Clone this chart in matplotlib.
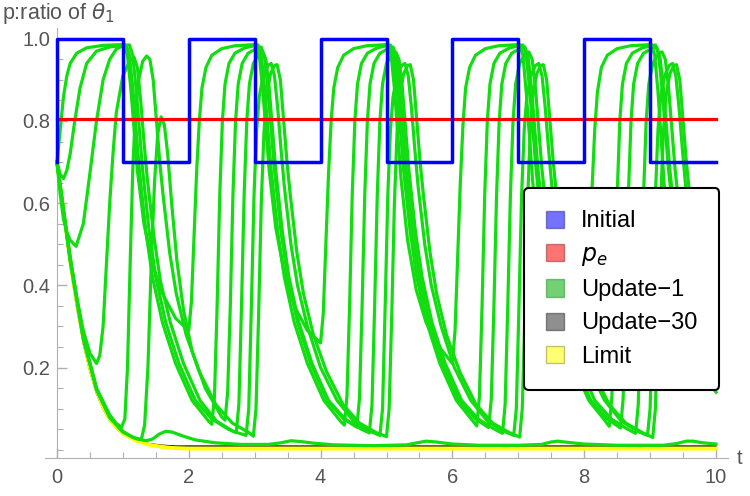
import numpy as np
import matplotlib.pyplot as plt
from matplotlib.patches import Patch

plt.rcParams['font.family'] = ['Liberation Sans', 'DejaVu Sans']
plt.rcParams['mathtext.fontset'] = 'dejavusans'

# initial ratio (square wave)
initial_t = [0, 0, 1, 1, 2, 2, 3, 3, 4, 4, 5, 5, 6, 6, 7, 7, 8, 8, 9, 9, 10]
initial_p = [0.7, 1.0, 1.0, 0.7, 0.7, 1.0, 1.0, 0.7, 0.7, 1.0, 1.0, 0.7,
             0.7, 1.0, 1.0, 0.7, 0.7, 1.0, 1.0, 0.7, 0.7]

pe = 0.806

# limit curve and Update-30 (lies right along it)
limit_t = [0, 0.05, 0.1, 0.15, 0.2, 0.3, 0.4, 0.5, 0.6, 0.7, 0.8, 0.9, 1.0,
           1.2, 1.4, 1.6, 1.8, 2.0, 10]
limit_p = [0.70, 0.64, 0.58, 0.52, 0.46, 0.36, 0.27, 0.20, 0.145, 0.105,
           0.075, 0.055, 0.04, 0.022, 0.012, 0.007, 0.004, 0.003, 0.003]
update30_p = [0.69, 0.625, 0.565, 0.505, 0.445, 0.345, 0.257, 0.19, 0.137,
              0.099, 0.071, 0.052, 0.039, 0.023, 0.015, 0.011, 0.009, 0.009,
              0.009]

# green curves: intermediate updates
ga_t = [0, 0.05, 0.1, 0.15, 0.2, 0.3, 0.45, 0.7, 1.02,
        1.07, 1.12, 1.17, 1.22, 1.32, 1.45, 1.6, 1.8, 2.0,
        2.04, 2.08, 2.12, 2.16, 2.2, 2.26, 2.35, 2.5, 2.7, 3.02,
        3.07, 3.12, 3.17, 3.22, 3.32, 3.45, 3.6, 3.8, 4.0,
        4.04, 4.08, 4.12, 4.16, 4.2, 4.26, 4.35, 4.5, 4.7, 5.02,
        5.07, 5.12, 5.17, 5.22, 5.32, 5.45, 5.6, 5.8, 6.0,
        6.04, 6.08, 6.12, 6.16, 6.2, 6.26, 6.35, 6.5, 6.7, 7.02,
        7.07, 7.12, 7.17, 7.22, 7.32, 7.45, 7.6, 7.8, 8.0,
        8.04, 8.08, 8.12, 8.16, 8.2, 8.26, 8.35, 8.5, 8.7, 9.02,
        9.07, 9.12, 9.17, 9.22, 9.32, 9.45, 9.6, 9.8, 10.0]
ga_p = [0.7, 0.78, 0.86, 0.91, 0.94, 0.965, 0.978, 0.984, 0.986,
        0.96, 0.88, 0.78, 0.68, 0.55, 0.45, 0.38, 0.32, 0.29,
        0.36, 0.52, 0.68, 0.8, 0.88, 0.93, 0.96, 0.976, 0.983, 0.986,
        0.96, 0.88, 0.78, 0.68, 0.54, 0.43, 0.35, 0.29, 0.26,
        0.33, 0.5, 0.67, 0.8, 0.88, 0.93, 0.96, 0.976, 0.983, 0.986,
        0.96, 0.88, 0.77, 0.66, 0.51, 0.39, 0.31, 0.25, 0.21,
        0.29, 0.47, 0.65, 0.79, 0.88, 0.93, 0.96, 0.976, 0.983, 0.986,
        0.96, 0.87, 0.76, 0.65, 0.49, 0.37, 0.28, 0.22, 0.18,
        0.26, 0.45, 0.64, 0.78, 0.87, 0.93, 0.96, 0.976, 0.983, 0.986,
        0.96, 0.87, 0.75, 0.63, 0.47, 0.34, 0.25, 0.18, 0.14]

gb_t = [0, 0.05, 0.1, 0.15, 0.2, 0.27, 0.35, 0.45, 0.6, 0.8, 1.05,
        1.1, 1.15, 1.2, 1.25, 1.35, 1.45, 1.6, 1.8, 2.05, 2.3, 2.35,
        2.39, 2.43, 2.47, 2.51, 2.55, 2.61, 2.7, 2.85, 3.05,
        3.1, 3.15, 3.2, 3.25, 3.35, 3.45, 3.6, 3.8, 4.05, 4.3, 4.36,
        4.4, 4.44, 4.48, 4.52, 4.56, 4.62, 4.71, 4.86, 5.06,
        5.11, 5.16, 5.21, 5.26, 5.36, 5.46, 5.61, 5.81, 6.06, 6.31, 6.37,
        6.41, 6.45, 6.49, 6.53, 6.57, 6.63, 6.72, 6.87, 7.07,
        7.12, 7.17, 7.22, 7.27, 7.37, 7.47, 7.62, 7.82, 8.07, 8.32, 8.38,
        8.42, 8.46, 8.5, 8.54, 8.58, 8.64, 8.73, 8.88, 9.08,
        9.13, 9.18, 9.23, 9.28, 9.38, 9.48, 9.63, 9.83, 10.0]
gb_p = [0.7, 0.67, 0.66, 0.68, 0.72, 0.8, 0.88, 0.94, 0.97, 0.98, 0.985,
        0.96, 0.88, 0.78, 0.68, 0.53, 0.42, 0.31, 0.21, 0.12, 0.07, 0.062,
        0.13, 0.35, 0.62, 0.8, 0.89, 0.94, 0.965, 0.978, 0.985,
        0.96, 0.88, 0.78, 0.68, 0.53, 0.42, 0.31, 0.21, 0.12, 0.07, 0.06,
        0.13, 0.35, 0.62, 0.8, 0.89, 0.94, 0.965, 0.978, 0.985,
        0.96, 0.88, 0.78, 0.68, 0.53, 0.42, 0.31, 0.21, 0.12, 0.07, 0.058,
        0.13, 0.35, 0.62, 0.8, 0.89, 0.94, 0.965, 0.978, 0.985,
        0.96, 0.88, 0.78, 0.68, 0.53, 0.42, 0.31, 0.21, 0.12, 0.07, 0.057,
        0.13, 0.35, 0.62, 0.8, 0.89, 0.94, 0.965, 0.978, 0.985,
        0.96, 0.88, 0.78, 0.68, 0.53, 0.42, 0.31, 0.21, 0.16]

gc_t = [0, 0.05, 0.1, 0.15, 0.2, 0.29, 0.4, 0.49, 0.6, 0.7, 0.8, 0.9, 1.0, 1.1,
        1.15, 1.2, 1.25, 1.3, 1.4, 1.5, 1.65, 1.85, 2.1, 2.35, 2.6, 2.72,
        2.76, 2.8, 2.84, 2.88, 2.92, 2.98, 3.07, 3.12,
        3.17, 3.22, 3.27, 3.32, 3.42, 3.52, 3.67, 3.87, 4.12, 4.37, 4.62, 4.74,
        4.78, 4.82, 4.86, 4.9, 4.94, 5.0, 5.09, 5.14,
        5.19, 5.24, 5.29, 5.34, 5.44, 5.54, 5.69, 5.89, 6.14, 6.39, 6.64, 6.76,
        6.8, 6.84, 6.88, 6.92, 6.96, 7.02, 7.11, 7.16,
        7.21, 7.26, 7.31, 7.36, 7.46, 7.56, 7.71, 7.91, 8.16, 8.41, 8.66, 8.78,
        8.82, 8.86, 8.9, 8.94, 8.98, 9.04, 9.13, 9.18,
        9.23, 9.28, 9.33, 9.38, 9.48, 9.58, 9.73, 9.93, 10.0]
gc_p = [0.7, 0.62, 0.56, 0.53, 0.51, 0.495, 0.55, 0.66, 0.8, 0.9, 0.95, 0.975,
        0.983, 0.985,
        0.96, 0.88, 0.78, 0.68, 0.53, 0.42, 0.31, 0.21, 0.12, 0.075, 0.05, 0.042,
        0.11, 0.35, 0.62, 0.8, 0.89, 0.94, 0.965, 0.968,
        0.95, 0.88, 0.78, 0.68, 0.53, 0.42, 0.31, 0.21, 0.12, 0.075, 0.05, 0.041,
        0.11, 0.35, 0.62, 0.8, 0.89, 0.94, 0.965, 0.968,
        0.95, 0.88, 0.78, 0.68, 0.53, 0.42, 0.31, 0.21, 0.12, 0.075, 0.05, 0.04,
        0.11, 0.35, 0.62, 0.8, 0.89, 0.94, 0.965, 0.968,
        0.95, 0.88, 0.78, 0.68, 0.53, 0.42, 0.31, 0.21, 0.12, 0.075, 0.05, 0.04,
        0.11, 0.35, 0.62, 0.8, 0.89, 0.94, 0.965, 0.968,
        0.95, 0.88, 0.78, 0.68, 0.53, 0.42, 0.31, 0.21, 0.19]

gd_t = [0, 0.1, 0.2, 0.3, 0.4, 0.5, 0.6, 0.65, 0.7, 0.75, 0.8, 0.85, 0.9, 1.0,
        1.1, 1.17,
        1.22, 1.27, 1.32, 1.37, 1.47, 1.57, 1.72, 1.92, 2.17, 2.42, 2.67, 2.87,
        2.91, 2.95, 2.99, 3.03, 3.07, 3.13, 3.2, 3.25,
        3.3, 3.35, 3.4, 3.45, 3.55, 3.65, 3.8, 4.0, 4.25, 4.5, 4.75, 4.9,
        4.94, 4.98, 5.02, 5.06, 5.1, 5.16, 5.23, 5.28,
        5.33, 5.38, 5.43, 5.48, 5.58, 5.68, 5.83, 6.03, 6.28, 6.53, 6.78, 6.93,
        6.97, 7.01, 7.05, 7.09, 7.13, 7.19, 7.26, 7.31,
        7.36, 7.41, 7.46, 7.51, 7.61, 7.71, 7.86, 8.06, 8.31, 8.56, 8.81, 8.96,
        9.0, 9.04, 9.08, 9.12, 9.16, 9.22, 9.29, 9.34,
        9.39, 9.44, 9.49, 9.54, 9.64, 9.74, 9.89, 10.0]
gd_p = [0.7, 0.58, 0.47, 0.37, 0.29, 0.235, 0.21, 0.23, 0.3, 0.45, 0.6, 0.72,
        0.82, 0.91, 0.945, 0.955,
        0.93, 0.85, 0.75, 0.66, 0.52, 0.41, 0.31, 0.21, 0.12, 0.07, 0.045, 0.035,
        0.1, 0.35, 0.62, 0.78, 0.86, 0.91, 0.935, 0.94,
        0.91, 0.83, 0.73, 0.64, 0.5, 0.4, 0.3, 0.2, 0.12, 0.07, 0.045, 0.035,
        0.1, 0.35, 0.62, 0.78, 0.86, 0.91, 0.935, 0.94,
        0.91, 0.83, 0.73, 0.64, 0.5, 0.4, 0.3, 0.2, 0.12, 0.07, 0.045, 0.035,
        0.1, 0.35, 0.62, 0.78, 0.86, 0.91, 0.935, 0.94,
        0.91, 0.83, 0.73, 0.64, 0.5, 0.4, 0.3, 0.2, 0.12, 0.07, 0.045, 0.035,
        0.1, 0.35, 0.62, 0.78, 0.86, 0.91, 0.935, 0.94,
        0.91, 0.83, 0.73, 0.64, 0.5, 0.4, 0.3, 0.25]

ge_t = [0, 0.2, 0.4, 0.6, 0.8, 0.9, 0.98, 1.03, 1.07, 1.11, 1.15, 1.19, 1.24,
        1.3, 1.36, 1.41,
        1.46, 1.51, 1.56, 1.61, 1.71, 1.81, 1.96, 2.16, 2.41, 2.66, 2.91, 2.98,
        3.02, 3.06, 3.1, 3.14, 3.18, 3.24, 3.3, 3.34,
        3.39, 3.44, 3.49, 3.54, 3.64, 3.74, 3.89, 4.09, 4.34, 4.59, 4.84, 5.0,
        5.04, 5.08, 5.12, 5.16, 5.2, 5.26, 5.32, 5.36,
        5.41, 5.46, 5.51, 5.56, 5.66, 5.76, 5.91, 6.11, 6.36, 6.61, 6.86, 7.02,
        7.06, 7.1, 7.14, 7.18, 7.22, 7.28, 7.34, 7.38,
        7.43, 7.48, 7.53, 7.58, 7.68, 7.78, 7.93, 8.13, 8.38, 8.63, 8.88, 9.04,
        9.08, 9.12, 9.16, 9.2, 9.24, 9.3, 9.36, 9.4,
        9.45, 9.5, 9.55, 9.6, 9.7, 9.8, 9.95, 10.0]
ge_p = [0.7, 0.465, 0.275, 0.15, 0.085, 0.064, 0.055, 0.075, 0.2, 0.45, 0.68,
        0.82, 0.9, 0.945, 0.958, 0.95,
        0.9, 0.8, 0.7, 0.62, 0.48, 0.38, 0.28, 0.19, 0.11, 0.065, 0.042, 0.033,
        0.1, 0.33, 0.6, 0.77, 0.86, 0.915, 0.935, 0.937,
        0.9, 0.8, 0.7, 0.62, 0.48, 0.38, 0.28, 0.19, 0.11, 0.065, 0.042, 0.032,
        0.1, 0.33, 0.6, 0.77, 0.86, 0.915, 0.935, 0.937,
        0.9, 0.8, 0.7, 0.62, 0.48, 0.38, 0.28, 0.19, 0.11, 0.065, 0.042, 0.031,
        0.1, 0.33, 0.6, 0.77, 0.86, 0.915, 0.935, 0.937,
        0.9, 0.8, 0.7, 0.62, 0.48, 0.38, 0.28, 0.19, 0.11, 0.065, 0.042, 0.03,
        0.1, 0.33, 0.6, 0.77, 0.86, 0.915, 0.935, 0.937,
        0.9, 0.8, 0.7, 0.62, 0.48, 0.38, 0.28, 0.26]

gf_t = [0, 0.2, 0.4, 0.6, 0.8, 1.0, 1.15, 1.28, 1.33, 1.38, 1.43, 1.48, 1.53,
        1.58, 1.63, 1.68, 1.74, 1.82, 1.92, 2.05, 2.25, 2.5, 2.55,
        2.59, 2.63, 2.67, 2.71, 2.75, 2.81, 2.9, 3.05, 3.1,
        3.15, 3.2, 3.25, 3.3, 3.4, 3.5, 3.65, 3.85, 4.1, 4.35, 4.55,
        4.59, 4.63, 4.67, 4.71, 4.75, 4.81, 4.9, 5.05, 5.1,
        5.15, 5.2, 5.25, 5.3, 5.4, 5.5, 5.65, 5.85, 6.1, 6.35, 6.55,
        6.59, 6.63, 6.67, 6.71, 6.75, 6.81, 6.9, 7.05, 7.1,
        7.15, 7.2, 7.25, 7.3, 7.4, 7.5, 7.65, 7.85, 8.1, 8.35, 8.55,
        8.59, 8.63, 8.67, 8.71, 8.75, 8.81, 8.9, 9.05, 9.1,
        9.15, 9.2, 9.25, 9.3, 9.4, 9.5, 9.65, 9.85, 10.0]
gf_p = [0.7, 0.463, 0.272, 0.148, 0.08, 0.045, 0.03, 0.025, 0.06, 0.2, 0.45,
        0.65, 0.77, 0.81, 0.79, 0.72, 0.6, 0.46, 0.34, 0.24, 0.15, 0.08, 0.072,
        0.14, 0.35, 0.62, 0.8, 0.89, 0.94, 0.965, 0.978, 0.98,
        0.955, 0.88, 0.78, 0.68, 0.53, 0.42, 0.31, 0.21, 0.12, 0.075, 0.055,
        0.125, 0.35, 0.62, 0.8, 0.89, 0.94, 0.965, 0.978, 0.98,
        0.955, 0.88, 0.78, 0.68, 0.53, 0.42, 0.31, 0.21, 0.12, 0.075, 0.054,
        0.124, 0.35, 0.62, 0.8, 0.89, 0.94, 0.965, 0.978, 0.98,
        0.955, 0.88, 0.78, 0.68, 0.53, 0.42, 0.31, 0.21, 0.12, 0.075, 0.053,
        0.123, 0.35, 0.62, 0.8, 0.89, 0.94, 0.965, 0.978, 0.98,
        0.955, 0.88, 0.78, 0.68, 0.53, 0.42, 0.31, 0.21, 0.17]

gg_t = [0, 0.2, 0.4, 0.6, 0.8, 1.0, 1.2, 1.35, 1.45, 1.55, 1.65, 1.75, 1.9,
        2.1, 2.4, 2.8, 3.2, 3.4, 3.55, 3.7, 3.9, 4.2, 4.8, 5.3, 5.5, 5.6,
        5.75, 6.0, 6.4, 7.0, 7.35, 7.5, 7.6, 7.75, 8.0, 8.5, 9.2, 9.4, 9.55,
        9.65, 9.8, 10.0]
gg_p = [0.7, 0.462, 0.27, 0.146, 0.078, 0.043, 0.027, 0.022, 0.026, 0.038,
        0.045, 0.043, 0.034, 0.024, 0.017, 0.013, 0.013, 0.017, 0.022, 0.02,
        0.016, 0.012, 0.01, 0.012, 0.018, 0.021, 0.019, 0.014, 0.011, 0.011,
        0.013, 0.019, 0.021, 0.018, 0.014, 0.011, 0.011, 0.015, 0.021, 0.021,
        0.017, 0.014]

green_curves = [(ga_t, ga_p), (gb_t, gb_p), (gc_t, gc_p), (gd_t, gd_p),
                (ge_t, ge_p), (gf_t, gf_p), (gg_t, gg_p)]

fig = plt.figure(figsize=(7.5, 4.96), dpi=100)
ax = fig.add_axes([45.1 / 750, 38 / 496, 682.8 / 750, 429.5 / 496])

ax.plot(limit_t, update30_p, color='black', lw=1.0, zorder=2)
ax.plot(limit_t, limit_p, color='#ffff00', lw=2.8, zorder=3)
for t, p in green_curves:
    ax.plot(t, p, color='#11dd11', lw=2.3, zorder=4, solid_joinstyle='round')
ax.plot([0, 10], [pe, pe], color='#ff0000', lw=2.3, zorder=5)
ax.plot(initial_t, initial_p, color='#0000ff', lw=2.5, zorder=6)

ax.set_xlim(-0.18, 10.18)
ax.set_ylim(-0.02, 1.025)

gray = '#b0b0b0'
for s in ['top', 'right']:
    ax.spines[s].set_visible(False)
ax.spines['left'].set_position(('data', 0))
ax.spines['left'].set_color(gray)
ax.spines['bottom'].set_color(gray)

ax.set_xticks(np.arange(0, 11, 2))
ax.set_xticks(np.arange(0, 10.01, 0.5), minor=True)
ax.set_yticks([0.2, 0.4, 0.6, 0.8, 1.0])
ax.set_yticks(np.arange(0, 1.001, 0.05), minor=True)
ax.set_yticklabels(['0.2', '0.4', '0.6', '0.8', '1.0'])
ax.tick_params(which='both', direction='in', color=gray, labelcolor='#555555',
               labelsize=14.5)
ax.tick_params(which='major', length=7, width=1)
ax.tick_params(which='minor', length=4, width=0.8)
ax.tick_params(axis='x', pad=7)
ax.tick_params(axis='y', pad=5)

fig.text(2 / 750, 1 - 13 / 496, r'p:ratio of $\theta_1$', fontsize=15.5,
         color='#555555', va='center', ha='left')
fig.text(737 / 750, 1 - 458 / 496, 't', fontsize=14.5, color='#555555',
         va='center', ha='left')

handles = [
    Patch(facecolor='#0000ff', edgecolor='#303090', alpha=0.55, label='Initial'),
    Patch(facecolor='#ff0000', edgecolor='#903030', alpha=0.55, label='$p_e$'),
    Patch(facecolor='#00aa00', edgecolor='#309030', alpha=0.55, label='Update\u22121'),
    Patch(facecolor='#333333', edgecolor='#333333', alpha=0.55, label='Update\u221230'),
    Patch(facecolor='#ffff00', edgecolor='#909030', alpha=0.55, label='Limit'),
]
leg = fig.legend(handles=handles, loc='upper left',
                 bbox_to_anchor=(524 / 750, 1 - 188 / 496), borderaxespad=0,
                 fontsize=17, frameon=True, fancybox=True, edgecolor='black',
                 handlelength=0.75, handleheight=0.75, handletextpad=0.7,
                 labelspacing=0.48, borderpad=0.95)
leg.get_frame().set_linewidth(1.5)
leg.get_frame().set_alpha(1)
leg.set_zorder(10)

fig.savefig('out.png', dpi=100)
